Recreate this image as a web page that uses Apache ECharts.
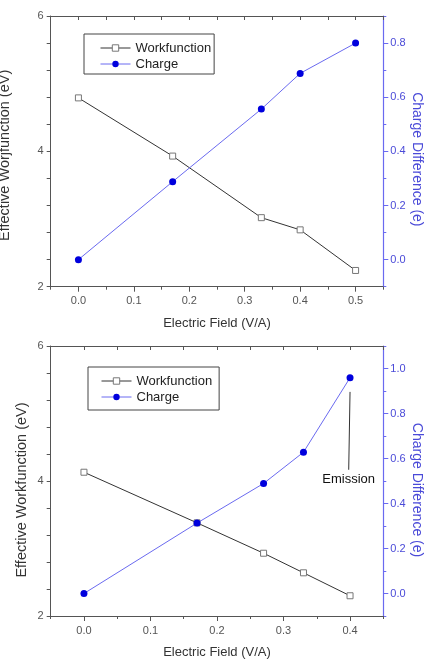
<!DOCTYPE html>
<html>
<head>
<meta charset="utf-8">
<script src="https://cdn.jsdelivr.net/npm/echarts@6/dist/echarts.min.js"></script>
<style>
html,body{margin:0;padding:0;background:#fff;}
#c{width:429px;height:659px;}
</style>
</head>
<body>
<div id="c"></div>
<script>
// ---- data (top chart) ----
var field1 = [0.00, 0.17, 0.33, 0.40, 0.50];
var workfunction1 = [4.79, 3.93, 3.02, 2.84, 2.24];
var charge1 = [0.000, 0.288, 0.556, 0.688, 0.800];
// ---- data (bottom chart) ----
var field2 = [0.00, 0.17, 0.27, 0.33, 0.40];
var workfunction2 = [4.13, 3.38, 2.93, 2.64, 2.30];
var charge2 = [0.000, 0.313, 0.489, 0.628, 0.959];
// ---- tick labels ----
var xTicks1 = [0.0, 0.1, 0.2, 0.3, 0.4, 0.5];
var xTicks2 = [0.0, 0.1, 0.2, 0.3, 0.4];
var leftTicks = [2, 4, 6];
var rightTicks1 = [0.0, 0.2, 0.4, 0.6, 0.8];
var rightTicks2 = [0.0, 0.2, 0.4, 0.6, 0.8, 1.0];
// ---- annotation (bottom chart, right axis units) ----
var emissionArrow = [[0.400, 0.896], [0.398, 0.550]];
var leftNames = ['Effective Worjfunction (eV)', 'Effective Workfunction (eV)'];
var xName = 'Electric Field (V/A)';
var rightName = 'Charge Difference (e)';

var FONT = 'Liberation Sans, Arial, sans-serif';
var GRAY = '#555';
var BLUE_AX = '#6a6af0';
var BLUE_TX = '#4a4ad8';

var chart = echarts.init(document.getElementById('c'), null, {renderer: 'canvas'});

function zip(a, b) { return a.map(function (v, i) { return [v, b[i]]; }); }

var grids = [
  {left: 50.7, top: 16, width: 332.6, height: 270.7, outerBoundsMode: 'none', containLabel: false},
  {left: 50.7, top: 346, width: 332.6, height: 270, outerBoundsMode: 'none', containLabel: false}
];
var cfg = [
  {xmin: -0.05, xmax: 0.55, xt: xTicks1, rmax: 0.9, rt: rightTicks1, leftGap: 38, leftShift: 4, rightShift: 8},
  {xmin: -0.05, xmax: 0.45, xt: xTicks2, rmax: 1.1, rt: rightTicks2, leftGap: 21, leftShift: 9, rightShift: 9}
];

var xAxes = [], yAxes = [];
cfg.forEach(function (c, g) {
  xAxes.push({
    type: 'value', gridIndex: g, position: 'bottom', min: c.xmin, max: c.xmax,
    name: xName, nameLocation: 'middle', nameGap: 30, nameMoveOverlap: false,
    nameTextStyle: {fontFamily: FONT, fontSize: 13, color: '#333'},
    axisLine: {show: true, onZero: false, lineStyle: {color: GRAY, width: 1}},
    axisTick: {show: true, customValues: c.xt, length: 5, lineStyle: {color: GRAY}},
    axisLabel: {show: true, customValues: c.xt, margin: 9, fontFamily: FONT, fontSize: 11, color: GRAY,
      formatter: function (v) { return (+v).toFixed(1); }},
    splitLine: {show: false}
  });
  xAxes.push({
    type: 'value', gridIndex: g, position: 'bottom', min: c.xmin, max: c.xmax, interval: 0.05,
    axisLine: {show: false, onZero: false},
    axisTick: {show: true, length: 3, lineStyle: {color: GRAY}},
    axisLabel: {show: false}, splitLine: {show: false}
  });
  xAxes.push({
    type: 'value', gridIndex: g, position: 'top', min: c.xmin, max: c.xmax, interval: 0.05,
    axisLine: {show: true, onZero: false, lineStyle: {color: GRAY, width: 1}},
    axisTick: {show: true, inside: true, length: 4, lineStyle: {color: GRAY}},
    axisLabel: {show: false}, splitLine: {show: false}
  });
  yAxes.push({
    type: 'value', gridIndex: g, position: 'left', min: 2, max: 6, interval: 0.4,
    name: leftNames[g], nameLocation: 'middle', nameGap: c.leftGap, nameMoveOverlap: false,
    nameTextStyle: {fontFamily: FONT, fontSize: 14.5, color: '#333', padding: [0, 2 * c.leftShift, 0, 0]},
    axisLine: {show: true, onZero: false, lineStyle: {color: GRAY, width: 1}},
    axisTick: {show: true, length: 4, lineStyle: {color: GRAY}},
    axisLabel: {show: true, customValues: leftTicks, margin: 7, fontFamily: FONT, fontSize: 11, color: GRAY},
    splitLine: {show: false}
  });
  yAxes.push({
    type: 'value', gridIndex: g, position: 'right', min: -0.1, max: c.rmax,
    name: rightName, nameLocation: 'middle', nameGap: 27, nameRotate: -90, nameMoveOverlap: false,
    nameTextStyle: {fontFamily: FONT, fontSize: 14, color: BLUE_TX, padding: [0, 0, 0, 2 * c.rightShift]},
    axisLine: {show: true, onZero: false, lineStyle: {color: BLUE_AX, width: 1.2}},
    axisTick: {show: true, customValues: c.rt, length: 5, lineStyle: {color: BLUE_AX}},
    axisLabel: {show: true, customValues: c.rt, margin: 7, fontFamily: FONT, fontSize: 11, color: BLUE_TX,
      formatter: function (v) { return (+v).toFixed(1); }},
    splitLine: {show: false}
  });
  yAxes.push({
    type: 'value', gridIndex: g, position: 'right', min: -0.1, max: c.rmax, interval: 0.1,
    axisLine: {show: false, onZero: false},
    axisTick: {show: true, length: 3, lineStyle: {color: BLUE_AX}},
    axisLabel: {show: false}, splitLine: {show: false}
  });
});

function wfSeries(data, xi, yi) {
  return {
    name: 'Workfunction', type: 'line', xAxisIndex: xi, yAxisIndex: yi, data: data,
    symbol: 'rect', symbolSize: 6, showSymbol: true,
    lineStyle: {color: '#333', width: 1},
    itemStyle: {color: '#fff', borderColor: '#777', borderWidth: 1},
    z: 3
  };
}
function chSeries(data, xi, yi) {
  return {
    name: 'Charge', type: 'line', xAxisIndex: xi, yAxisIndex: yi, data: data,
    symbol: 'circle', symbolSize: 7, showSymbol: true,
    lineStyle: {color: BLUE_AX, width: 1},
    itemStyle: {color: '#0000dd', borderWidth: 0},
    z: 4
  };
}

var s1 = wfSeries(zip(field1, workfunction1), 0, 0);
var s2 = chSeries(zip(field1, charge1), 0, 1);
var s3 = wfSeries(zip(field2, workfunction2), 3, 3);
var s4 = chSeries(zip(field2, charge2), 3, 4);
s4.markLine = {
  silent: true, animation: false,
  symbol: ['none', 'arrow'], symbolSize: [0, 6],
  lineStyle: {color: '#333', width: 1, type: 'solid'},
  label: {show: true, position: 'end', formatter: 'Emission', distance: 3,
    fontFamily: FONT, fontSize: 13, color: '#111'},
  data: [[{coord: emissionArrow[0]}, {coord: emissionArrow[1]}]]
};

function legend(left, top, padding) {
  return {
    show: true, orient: 'vertical', left: left, top: top,
    data: ['Workfunction', 'Charge'],
    itemWidth: 30, itemHeight: 8, itemGap: 2,
    padding: padding,
    borderColor: '#444', borderWidth: 1, backgroundColor: '#fff',
    selectedMode: false,
    lineStyle: {width: 1},
    itemStyle: {borderWidth: 1},
    textStyle: {fontFamily: FONT, fontSize: 13, color: '#222', lineHeight: 14}
  };
}

chart.setOption({
  animation: false,
  backgroundColor: '#fff',
  grid: grids,
  xAxis: xAxes,
  yAxis: yAxes,
  legend: [legend(84, 34, [7, 3, 3, 16]), legend(88, 367, [7, 7, 6, 13])],
  series: [s1, s2, s3, s4]
});
</script>
</body>
</html>
